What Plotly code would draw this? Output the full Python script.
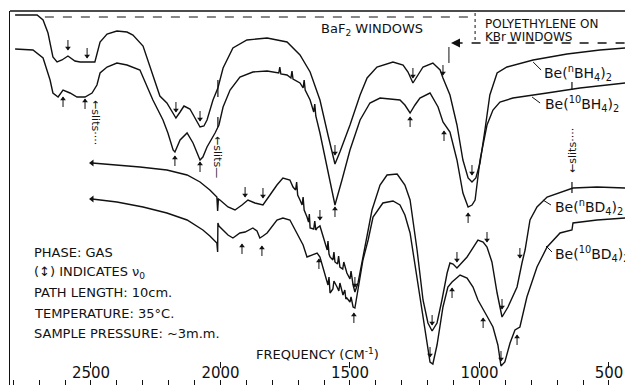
import plotly.graph_objects as go

# ---------------- data (wavenumber cm^-1, relative transmittance a.u., traces offset) ----------
wn_nBH4 = [2793,2708,2685,2666,2647,2631,2612,2589,2562,2542,2485,2477,2465,2438,2400,2361,2338,2299,2261,2234,
           2207,2187,2172,2156,2141,2118,2091,2079,2064,2052,2029,2010,1990,1952,1898,1820,1743,1693,1654,1616,
           1585,1558,1539,1500,1461,1434,1396,1334,1295,1276,1257,1237,1218,1180,1152,1141,1114,1087,1064,1044,
           1029,1014,998,979,960,932,894,793,662,535,438]
T_nBH4 = [370,370,365,352,328,323,325,329,324,323,323,330,343,351,354,353,350,339,310,289,
          282,273,267,273,279,276,263,258,259,265,285,297,317,337,345,347,343,330,313,285,
          250,221,233,260,290,307,318,323,320,313,302,310,318,322,315,307,290,260,225,207,
          203,207,222,255,290,312,318,325,331,335,337]

wn_10BH4 = [2793,2724,2685,2658,2647,2627,2608,2581,2554,2523,2496,2477,2465,2438,2400,2361,2311,2284,2261,2222,
            2203,2183,2176,2156,2129,2106,2079,2068,2052,2021,2006,1990,1963,1925,1875,1820,1797,1775,1771,1767,
            1743,1728,1724,1720,1693,1681,1677,1673,1654,1640,1636,1632,1616,1585,1558,1531,1500,1461,1423,1384,
            1307,1288,1268,1249,1230,1191,1160,1141,1114,1087,1064,1044,1029,1017,998,971,948,921,871,739,
            612,438]
T_10BH4 = [336,335,327,305,292,288,295,292,288,288,292,300,312,318,322,320,315,298,285,265,
           252,235,233,245,252,242,225,228,238,252,260,278,295,308,313,314,313,312,318,311,
           310,307,314,306,302,297,305,295,285,273,281,269,252,215,180,205,235,265,282,287,
           285,280,272,280,287,292,278,263,253,225,192,178,180,185,225,260,275,283,287,292,
           297,302]

wn_nBD4 = [2496,2400,2311,2207,2129,2079,2041,2014,2011,2008,2002,1971,1944,1917,1894,1867,1836,1809,1782,1759,
           1732,1720,1710,1706,1702,1693,1685,1681,1677,1666,1660,1657,1654,1640,1636,1632,1627,1616,1597,1588,
           1585,1581,1577,1566,1562,1558,1548,1544,1539,1528,1524,1512,1500,1496,1488,1481,1469,1454,1434,1415,
           1384,1357,1318,1288,1268,1241,1218,1199,1183,1164,1145,1125,1114,1102,1087,1048,1006,986,971,952,
           932,913,890,855,836,824,805,778,739,639,546,438]
T_nBD4 = [222,220,218,215,210,203,195,188,174,186,185,178,175,180,185,182,180,190,200,207,
          205,198,195,203,190,185,180,188,175,168,163,171,157,156,164,155,157,159,142,135,
          144,131,128,125,133,123,121,129,118,116,123,112,106,114,100,93,102,123,147,175,
          200,210,211,200,185,135,85,62,54,62,85,112,122,121,117,128,145,143,138,123,
          92,68,78,98,122,135,165,178,188,197,198,197]

wn_10BD4 = [2496,2400,2299,2207,2129,2068,2041,2014,2011,2010,2006,2002,1971,1952,1925,1905,1875,1859,1848,1836,
            1820,1782,1759,1732,1705,1681,1666,1647,1627,1616,1597,1585,1581,1577,1566,1562,1550,1543,1539,1527,
            1520,1516,1512,1500,1496,1488,1481,1469,1450,1430,1411,1373,1334,1307,1288,1268,1249,1230,1210,1191,
            1180,1164,1141,1122,1106,1075,1048,1025,1006,986,967,948,929,917,902,882,863,844,817,778,
            739,689,643,639,546,438]
T_10BD4 = [186,183,178,172,165,155,149,142,133,162,159,158,150,147,152,153,157,154,147,149,
           152,165,167,165,152,140,128,130,132,128,110,100,108,92,96,104,98,94,102,90,
           95,86,87,83,88,78,77,95,125,145,168,182,184,180,170,152,120,85,55,23,
           21,40,78,98,103,110,107,98,85,75,67,58,40,19,23,42,55,58,88,118,
           138,152,155,162,165,167]

# nu0 indicator arrows (centre positions)
arrow_down_wn = [2589,2515,2172,2079,1558,1257,1141,1029,
                 1905,1836,1616,1481,1183,1087,971,913,844,
                 1191,917]
arrow_down_T = [340,332,278,269,235,312,315,215,
                193,192,170,103,65,128,148,81,132,
                33,29]
arrow_up_wn = [2608,2523,2176,2079,1558,1268,1137,1044,
               1917,1840,1620,1485,1106,986,855]
arrow_up_T = [283,281,224,218,173,263,249,167,
              136,134,121,67,92,62,45]

# slit-change ticks on the traces
slit_wn = [2010, 2010, 643, 643]
slit_lo = [288, 258, 192, 295]
slit_hi = [305, 268, 203, 303]

major_ticks = [2500, 2000, 1500, 1000, 500]
tick_text = ["2500", "2000", "1500", "1000", "500"]

X_RANGE = [2812.7, 438.2]
Y_RANGE = [0, 374]

INK = "#111111"
FONT = "DejaVu Sans"
HALF = 5  # half length of an indicator arrow, in y units

fig = go.Figure()

for wn, T in [(wn_nBH4, T_nBH4), (wn_10BH4, T_10BH4), (wn_nBD4, T_nBD4), (wn_10BD4, T_10BD4)]:
    fig.add_trace(go.Scatter(x=wn, y=T, mode="lines", line=dict(color=INK, width=1.4),
                             hoverinfo="skip", showlegend=False))

# start arrows of the deuteride traces
fig.add_trace(go.Scatter(x=[wn_nBD4[0], wn_10BD4[0]], y=[T_nBD4[0], T_10BD4[0]], mode="markers",
                         marker=dict(symbol="triangle-left", size=6, color=INK),
                         hoverinfo="skip", showlegend=False))

# slit ticks
sx, sy = [], []
for w, lo, hi in zip(slit_wn, slit_lo, slit_hi):
    sx += [w, w, None]
    sy += [lo, hi, None]
fig.add_trace(go.Scatter(x=sx, y=sy, mode="lines", line=dict(color=INK, width=1.2),
                         hoverinfo="skip", showlegend=False))

# indicator arrows: shafts + heads
ax_, ay_ = [], []
for w, t in zip(arrow_down_wn + arrow_up_wn, arrow_down_T + arrow_up_T):
    ax_ += [w, w, None]
    ay_ += [t - HALF, t + HALF, None]
fig.add_trace(go.Scatter(x=ax_, y=ay_, mode="lines", line=dict(color=INK, width=1),
                         hoverinfo="skip", showlegend=False))
fig.add_trace(go.Scatter(x=arrow_down_wn, y=[t - HALF + 2 for t in arrow_down_T], mode="markers",
                         marker=dict(symbol="triangle-down", size=5, color=INK, line=dict(width=0)),
                         hoverinfo="skip", showlegend=False))
fig.add_trace(go.Scatter(x=arrow_up_wn, y=[t + HALF - 2 for t in arrow_up_T], mode="markers",
                         marker=dict(symbol="triangle-up", size=5, color=INK, line=dict(width=0)),
                         hoverinfo="skip", showlegend=False))

# dummy trace for the upper tick-mark axis
fig.add_trace(go.Scatter(x=[X_RANGE[0]], y=[0], xaxis="x2", mode="markers",
                         marker=dict(opacity=0), hoverinfo="skip", showlegend=False))

shapes = [
    dict(type="line", xref="paper", yref="paper", x0=0, x1=1, y0=1, y1=1, line=dict(color=INK, width=1.5)),
    dict(type="line", x0=2678, x1=1017, y0=368, y1=368, line=dict(color=INK, width=1.2, dash="dash")),
    dict(type="line", x0=1017, x1=1017, y0=372, y1=345, line=dict(color=INK, width=1, dash="dot")),
    dict(type="line", x0=1100, x1=438, y0=342, y1=342, line=dict(color=INK, width=1.5, dash="dash")),
    dict(type="line", x0=1118, x1=1118, y0=338, y1=322, line=dict(color=INK, width=1)),
    # label leaders
    dict(type="line", x0=793, x1=762, y0=323, y1=315, line=dict(color=INK, width=1)),
    dict(type="line", x0=797, x1=766, y0=288, y1=282, line=dict(color=INK, width=1)),
    dict(type="line", x0=755, x1=724, y0=185, y1=180, line=dict(color=INK, width=1)),
    dict(type="line", x0=743, x1=720, y0=139, y1=133, line=dict(color=INK, width=1)),
]

def ann(x, y, text, size=13, xanchor="center", angle=0, xref="x", yref="y"):
    return dict(x=x, y=y, xref=xref, yref=yref, text=text, showarrow=False, xanchor=xanchor,
                yanchor="middle", textangle=angle, font=dict(family=FONT, size=size, color=INK))

annotations = [
    # arrowhead at the left end of the polyethylene marker
    dict(x=1110, y=342, ax=1090, ay=342, xref="x", yref="y", axref="x", ayref="y",
         text="", showarrow=True, arrowhead=2, arrowsize=1.2, arrowwidth=1.5, arrowcolor=INK),
    ann(759, 312, "Be(<sup>n</sup>BH<sub>4</sub>)<sub>2</sub>", 14, "left"),
    ann(755, 281, "Be(<sup>10</sup>BH<sub>4</sub>)<sub>2</sub>", 14, "left"),
    ann(716, 178, "Be(<sup>n</sup>BD<sub>4</sub>)<sub>2</sub>", 14, "left"),
    ann(716, 131, "Be(<sup>10</sup>BD<sub>4</sub>)<sub>2</sub>", 14, "left"),
    ann(2481, 262, "←slits····", 11, angle=90),
    ann(2010, 228, "←slits—", 11, angle=90),
    ann(643, 235, "←slits····", 11, angle=-90),
    ann(1415, 356, "BaF<sub>2</sub> WINDOWS", 13),
    ann(986, 361, "POLYETHYLENE ON", 12, "left"),
    ann(986, 348, "KBr WINDOWS", 12, "left"),
    ann(2728, 133, "PHASE: GAS", 13, "left"),
    ann(2728, 113, "(↕) INDICATES ν<sub>0</sub>", 13, "left"),
    ann(2728, 93, "PATH LENGTH: 10cm.", 13, "left"),
    ann(2728, 72, "TEMPERATURE: 35°C.", 13, "left"),
    ann(2728, 52, "SAMPLE PRESSURE: ~3m.m.", 13, "left"),
    ann(1624, 31, "FREQUENCY (CM<sup>-1</sup>)", 13),
]

fig.update_layout(
    width=625, height=387,
    margin=dict(l=10, r=0, t=11, b=2),
    paper_bgcolor="white", plot_bgcolor="white",
    shapes=shapes, annotations=annotations,
    xaxis=dict(range=X_RANGE, showgrid=False, zeroline=False, showline=False,
               tickmode="array", tickvals=major_ticks, ticktext=tick_text,
               ticks="inside", ticklen=4, tickcolor=INK, ticklabelposition="inside",
               tickfont=dict(family=FONT, size=15, color=INK),
               minor=dict(tickmode="linear", tick0=0, dtick=100, ticks="inside", ticklen=5,
                          tickcolor=INK, showgrid=False)),
    xaxis2=dict(range=X_RANGE, overlaying="x", anchor="free", position=0.045, side="bottom",
                showgrid=False, zeroline=False, showline=False, showticklabels=False,
                tickmode="array", tickvals=major_ticks, ticks="inside", ticklen=6, tickcolor=INK),
    yaxis=dict(range=Y_RANGE, showgrid=False, zeroline=False, showticklabels=False,
               showline=True, linecolor=INK, linewidth=1.5, ticks=""),
    showlegend=False,
)

fig.write_html("out.html", config={"displayModeBar": False, "staticPlot": True},
               post_script="document.body.style.margin='0';document.body.style.padding='0';")
